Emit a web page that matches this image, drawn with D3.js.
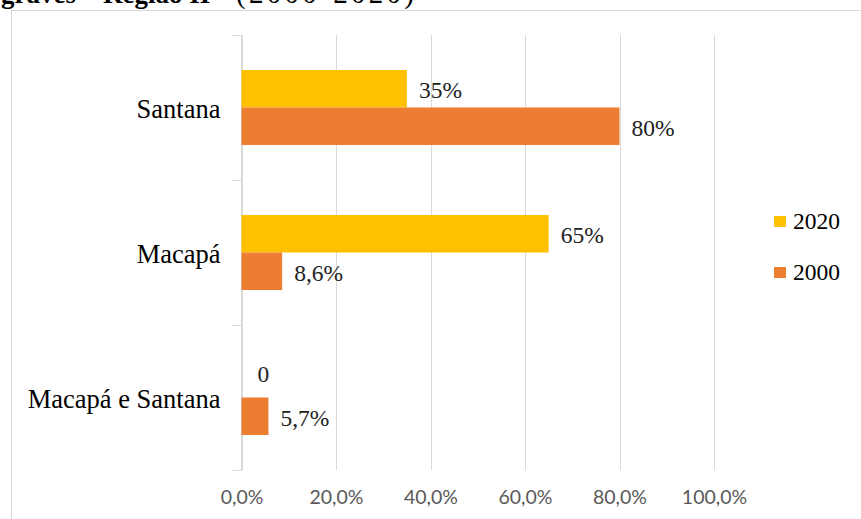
<!DOCTYPE html>
<html>
<head>
<meta charset="utf-8">
<script src="https://cdn.jsdelivr.net/npm/d3@7"></script>
<style>
  html, body { margin: 0; padding: 0; background: #fff; }
  svg { display: block; }
</style>
</head>
<body>
<svg id="chart" width="861" height="519"></svg>
<script>
// Chart data
const categories = ["Santana", "Macapá", "Macapá e Santana"];
const seriesNames = ["2020", "2000"];
const values2020 = [35, 65, 0];
const values2000 = [80, 8.6, 5.7];
const xTicks = [0, 20, 40, 60, 80, 100];
const titleBold = "graves – Região II";
const titleRest = "(2000-2020)";

const colors = { "2020": "#FFC000", "2000": "#ED7D31" };
const serif = "'Liberation Serif', 'Times New Roman', serif";
const sans = "Lato, 'Open Sans', sans-serif";

const svg = d3.select("#chart");

// Header text (runs off the top edge of the page)
svg.append("text")
  .attr("x", 1).attr("y", 3)
  .attr("font-family", serif).attr("font-size", 27).attr("fill", "#000")
  .attr("font-weight", "bold")
  .text(titleBold);
svg.append("text")
  .attr("x", 236).attr("y", 3)
  .attr("font-family", serif).attr("font-size", 29).attr("fill", "#000")
  .attr("textLength", 178).attr("lengthAdjust", "spacing")
  .text(titleRest);

// Chart frame
svg.append("rect")
  .attr("x", 11.5).attr("y", 10.5)
  .attr("width", 900).attr("height", 600)
  .attr("fill", "#fff").attr("stroke", "#d9d9d9").attr("stroke-width", 1);

// Scales
const plotTop = 35, plotBottom = 470;
const x = d3.scaleLinear().domain([0, 100]).range([241.5, 714]);
const y = d3.scaleBand().domain(categories).range([plotTop, plotBottom]);
const ySub = d3.scaleBand().domain(seriesNames)
  .range([0, y.bandwidth()]).paddingInner(0).paddingOuter(0.933);

// Vertical gridlines
svg.append("g")
  .attr("transform", `translate(0,${plotBottom})`)
  .call(d3.axisBottom(x).tickValues(xTicks).tickSize(-(plotBottom - plotTop)).tickFormat(""))
  .call(g => g.select(".domain").remove())
  .call(g => g.selectAll("line").attr("stroke", "#d9d9d9").attr("shape-rendering", "crispEdges"));

// X tick labels
svg.append("g")
  .attr("transform", `translate(0,${plotBottom})`)
  .call(d3.axisBottom(x).tickValues(xTicks).tickSize(0).tickPadding(20)
    .tickFormat(d => d3.format(".1f")(d).replace(".", ",") + "%"))
  .call(g => g.select(".domain").remove())
  .call(g => g.selectAll("text")
    .attr("font-family", sans).attr("font-size", 19.5).attr("fill", "#595959"));

// Category axis line and boundary ticks
svg.append("line")
  .attr("x1", x(0)).attr("x2", x(0))
  .attr("y1", plotTop).attr("y2", plotBottom)
  .attr("stroke", "#d9d9d9").attr("shape-rendering", "crispEdges");
const edges = categories.map(c => y(c)).concat([y(categories[categories.length - 1]) + y.bandwidth()]);
svg.append("g").selectAll("line").data(edges).join("line")
  .attr("x1", x(0) - 10).attr("x2", x(0))
  .attr("y1", d => d).attr("y2", d => d)
  .attr("stroke", "#d9d9d9").attr("shape-rendering", "crispEdges");

// Category labels
svg.append("g")
  .attr("transform", `translate(${x(0)},0)`)
  .call(d3.axisLeft(y).tickSize(0).tickPadding(21))
  .call(g => g.select(".domain").remove())
  .call(g => g.selectAll("text")
    .attr("font-family", serif).attr("font-size", 26.5).attr("fill", "#000").attr("dy", "0.4em"));

// Bars
const rows = categories.map((c, i) => ({
  cat: c,
  items: [
    { s: "2020", v: values2020[i] },
    { s: "2000", v: values2000[i] }
  ]
}));

const fmt = v => v === 0 ? "0" : String(v).replace(".", ",") + "%";

const groups = svg.append("g").selectAll("g").data(rows).join("g")
  .attr("transform", d => `translate(0,${y(d.cat)})`);

groups.selectAll("rect").data(d => d.items).join("rect")
  .attr("x", x(0))
  .attr("y", d => ySub(d.s))
  .attr("width", d => x(d.v) - x(0))
  .attr("height", ySub.bandwidth())
  .attr("fill", d => colors[d.s]);

groups.selectAll("text").data(d => d.items).join("text")
  .attr("x", d => x(d.v) + (d.v === 0 ? 16 : 12))
  .attr("y", d => ySub(d.s) + ySub.bandwidth() / 2 + (d.v === 0 ? -6 : 0))
  .attr("dy", "0.4em")
  .attr("font-family", serif).attr("font-size", 23.5).attr("fill", "#222")
  .text(d => fmt(d.v));

// Legend
const legend = svg.append("g").selectAll("g").data(seriesNames).join("g")
  .attr("transform", (d, i) => `translate(774,${221.5 + i * 51})`);
legend.append("rect")
  .attr("x", 0).attr("y", -5.5).attr("width", 12).attr("height", 11)
  .attr("fill", d => colors[d]);
legend.append("text")
  .attr("x", 19).attr("y", 7.5)
  .attr("font-family", serif).attr("font-size", 23.5).attr("fill", "#000")
  .text(d => d);
</script>
</body>
</html>
